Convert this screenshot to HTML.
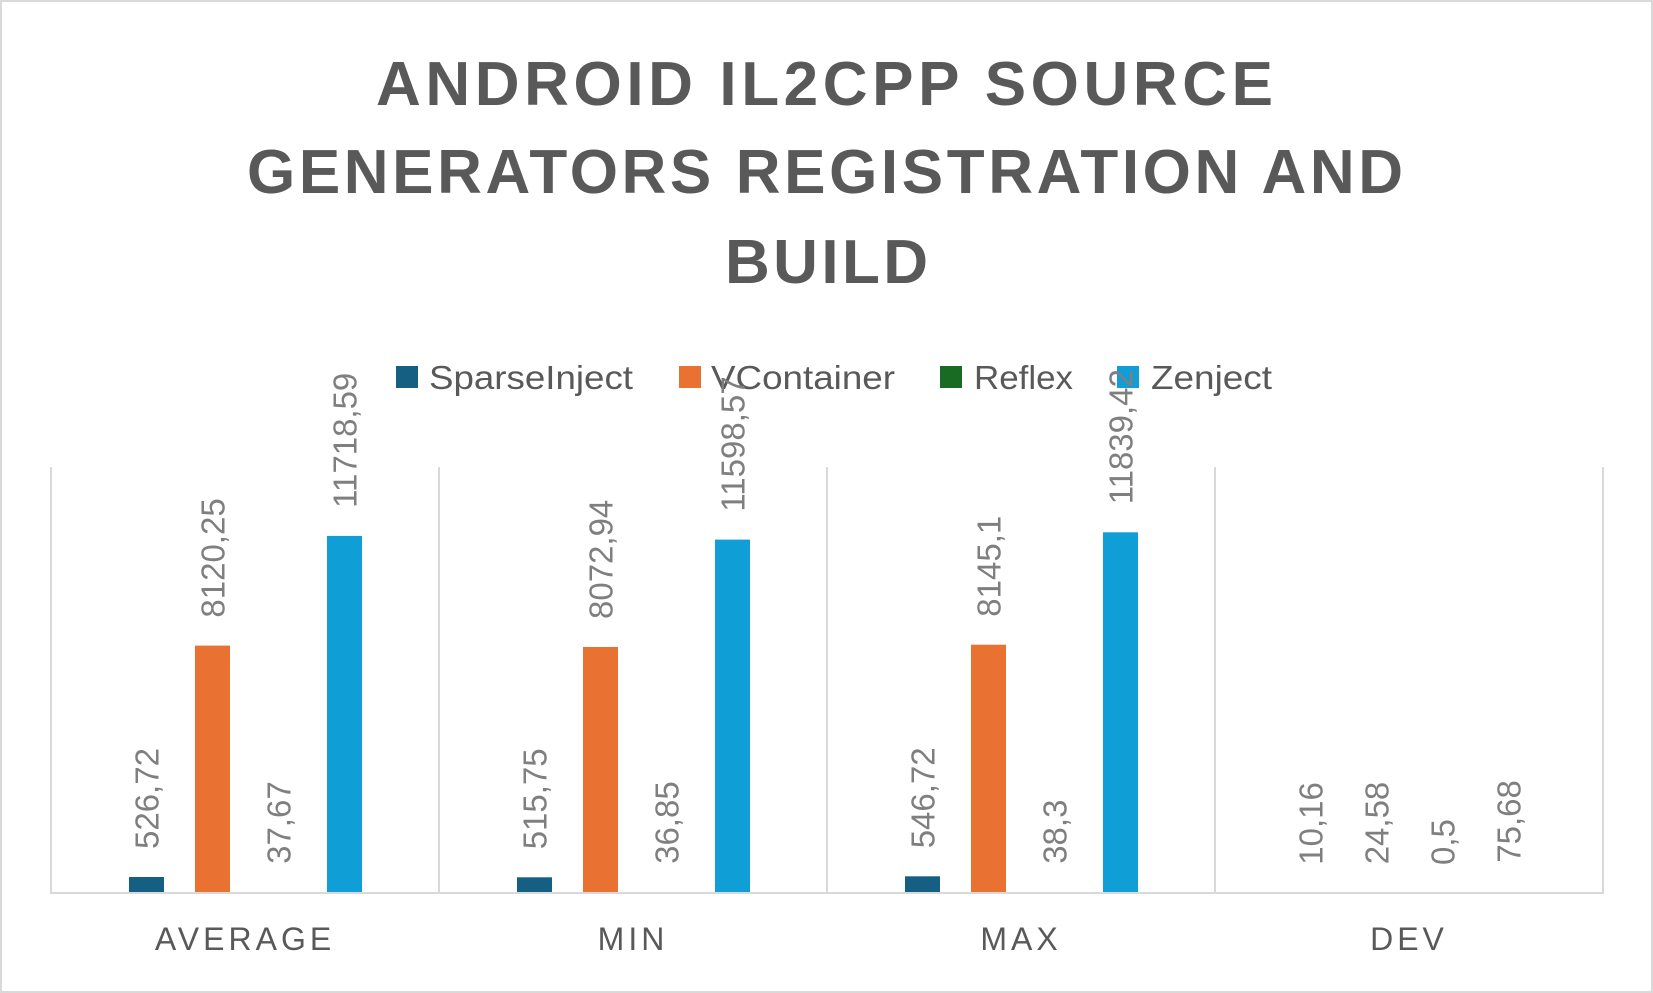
<!DOCTYPE html>
<html><head><meta charset="utf-8"><style>
html,body{margin:0;padding:0;background:#fff;}
svg{display:block;font-family:"Liberation Sans",sans-serif;}
.v{fill:#7f7f7f;font-size:33px;}
.c{fill:#595959;font-size:32px;letter-spacing:4px;text-anchor:middle;}
.l{fill:#595959;font-size:33px;}
.t{fill:#595959;font-size:62px;font-weight:bold;}
</style></head><body>
<svg width="1653" height="993" viewBox="0 0 1653 993" xmlns="http://www.w3.org/2000/svg">
<rect x="1" y="1" width="1651" height="991" fill="#fff" stroke="#d9d9d9" stroke-width="2"/>
<text class="t" x="376" y="105" textLength="897" lengthAdjust="spacing">ANDROID IL2CPP SOURCE</text>
<text class="t" x="247" y="193" textLength="1156" lengthAdjust="spacing">GENERATORS REGISTRATION AND</text>
<text class="t" x="725" y="283" textLength="203" lengthAdjust="spacing">BUILD</text>
<rect x="396" y="366" width="22" height="22" fill="#156082"/>
<text class="l" x="429" y="389" textLength="204" lengthAdjust="spacingAndGlyphs">SparseInject</text>
<rect x="679" y="366" width="22" height="22" fill="#e97132"/>
<text class="l" x="711" y="389" textLength="184" lengthAdjust="spacingAndGlyphs">VContainer</text>
<rect x="940" y="366" width="22" height="22" fill="#196b24"/>
<text class="l" x="974" y="389" textLength="99" lengthAdjust="spacingAndGlyphs">Reflex</text>
<rect x="1117" y="366" width="22" height="22" fill="#0f9ed5"/>
<text class="l" x="1151" y="389" textLength="121" lengthAdjust="spacingAndGlyphs">Zenject</text>
<g stroke="#d9d9d9" stroke-width="2">
<line x1="51" y1="467" x2="51" y2="894"/><line x1="439" y1="467" x2="439" y2="894"/>
<line x1="827" y1="467" x2="827" y2="894"/><line x1="1215" y1="467" x2="1215" y2="894"/>
<line x1="1603" y1="467" x2="1603" y2="894"/>
</g>
<g>
<rect x="129" y="877" width="35" height="16" fill="#156082"/>
<rect x="195" y="645.6" width="35" height="247.4" fill="#e97132"/>
<rect x="327" y="535.9" width="35" height="357.1" fill="#0f9ed5"/>
<rect x="517" y="877.3" width="35" height="15.7" fill="#156082"/>
<rect x="583" y="647" width="35" height="246" fill="#e97132"/>
<rect x="715" y="539.6" width="35" height="353.4" fill="#0f9ed5"/>
<rect x="905" y="876.3" width="35" height="16.7" fill="#156082"/>
<rect x="971" y="644.7" width="35" height="248.3" fill="#e97132"/>
<rect x="1103" y="532.3" width="35" height="360.7" fill="#0f9ed5"/>
</g>
<line x1="50" y1="893" x2="1604" y2="893" stroke="#d9d9d9" stroke-width="2"/>
<g class="v">
<text transform="translate(158.5,849) rotate(-90)">526,72</text>
<text transform="translate(224.5,617.6) rotate(-90)">8120,25</text>
<text transform="translate(290.5,863.9) rotate(-90)">37,67</text>
<text transform="translate(356.5,507.9) rotate(-90)">11718,59</text>
<text transform="translate(546.5,849.3) rotate(-90)">515,75</text>
<text transform="translate(612.5,619) rotate(-90)">8072,94</text>
<text transform="translate(678.5,863.9) rotate(-90)">36,85</text>
<text transform="translate(744.5,511.6) rotate(-90)">11598,57</text>
<text transform="translate(934.5,848.3) rotate(-90)">546,72</text>
<text transform="translate(1000.5,616.7) rotate(-90)">8145,1</text>
<text transform="translate(1066.5,863.8) rotate(-90)">38,3</text>
<text transform="translate(1132.5,504.3) rotate(-90)">11839,42</text>
<text transform="translate(1322.5,864.7) rotate(-90)">10,16</text>
<text transform="translate(1388.5,864.3) rotate(-90)">24,58</text>
<text transform="translate(1454.5,865) rotate(-90)">0,5</text>
<text transform="translate(1520.5,862.7) rotate(-90)">75,68</text>
</g>
<g class="c">
<text x="245" y="950">AVERAGE</text>
<text x="633" y="950">MIN</text>
<text x="1021" y="950">MAX</text>
<text x="1409" y="950">DEV</text>
</g>
</svg>
</body></html>
